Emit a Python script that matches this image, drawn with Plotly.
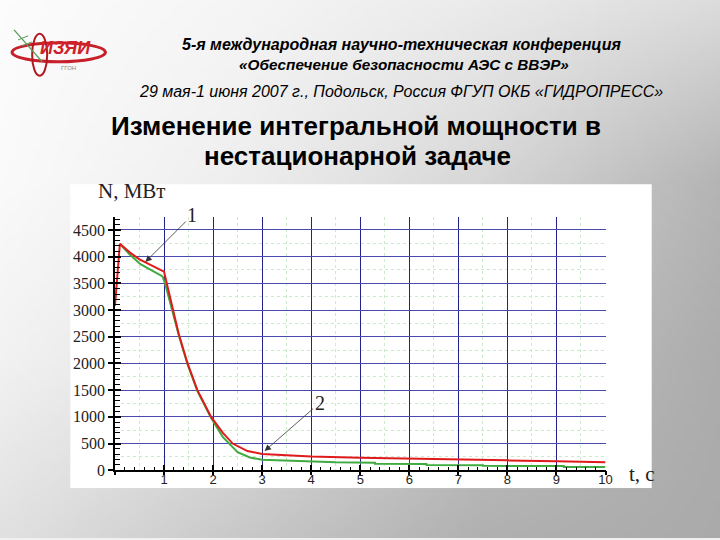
import base64, struct, zlib
import plotly.graph_objects as go

# ---------------- data ----------------
t_red = [0, 0.1, 0.3, 0.5, 1.0, 1.15, 1.3, 1.48, 1.68, 1.96, 2.2, 2.4, 2.7, 3.0, 3.5, 4, 5, 6, 7, 8, 9, 10]
n_red = [3080, 4240, 4080, 3950, 3720, 3150, 2550, 2000, 1500, 1000, 700, 500, 360, 305, 280, 258, 235, 215, 200, 185, 170, 150]

t_green = [0.1, 0.3, 0.52, 0.75, 0.97, 1.02, 1.3, 1.48, 1.68, 1.96, 2.2, 2.5, 2.75, 3.0, 3.5, 4.0, 4.5,
           5.3, 5.3, 6.35, 6.35, 7.5, 7.5, 9.15, 9.15, 10]
n_green = [4240, 4040, 3860, 3740, 3630, 3500, 2530, 1980, 1480, 980, 620, 340, 240, 195, 175, 155, 148,
           140, 120, 115, 100, 95, 82, 78, 62, 60]

x_ticks = [1, 2, 3, 4, 5, 6, 7, 8, 9, 10]
y_ticks = [0, 500, 1000, 1500, 2000, 2500, 3000, 3500, 4000, 4500]

header_lines = [
    "5-я международная научно-техническая конференция",
    "«Обеспечение безопасности АЭС с ВВЭР»",
    "29 мая-1 июня 2007 г., Подольск, Россия ФГУП ОКБ «ГИДРОПРЕСС»",
]
title_lines = ["Изменение интегральной мощности в", "нестационарной задаче"]

# ---------------- background gradient (slide style) ----------------
GX = [0, 240, 480, 720]
GY = [0, 180, 360, 540]
GV = [[252, 245, 235, 220],
      [250, 238, 215, 180],
      [242, 225, 195, 172],
      [225, 200, 176, 170]]


def shade(x, y):
    i = min(int(x // 240), 2)
    j = min(int(y // 180), 2)
    fx = (x - GX[i]) / 240.0
    fy = (y - GY[j]) / 180.0
    v00, v10 = GV[j][i], GV[j][i + 1]
    v01, v11 = GV[j + 1][i], GV[j + 1][i + 1]
    return v00 * (1 - fx) * (1 - fy) + v10 * fx * (1 - fy) + v01 * (1 - fx) * fy + v11 * fx * fy


def gradient_png(w, h, y0, y1):
    rows = []
    for j in range(h):
        yy = y0 + (y1 - y0) * (j + 0.5) / h
        row = bytearray([0])
        for i in range(w):
            xx = 720.0 * (i + 0.5) / w
            row.append(max(0, min(255, int(round(shade(xx, yy))))))
        rows.append(bytes(row))
    raw = b"".join(rows)

    def chunk(tag, data):
        return struct.pack(">I", len(data)) + tag + data + struct.pack(">I", zlib.crc32(tag + data) & 0xffffffff)

    png = b"\x89PNG\r\n\x1a\n" + chunk(b"IHDR", struct.pack(">IIBBBBB", w, h, 8, 0, 0, 0, 0)) \
        + chunk(b"IDAT", zlib.compress(raw, 9)) + chunk(b"IEND", b"")
    return "data:image/png;base64," + base64.b64encode(png).decode()


# reference-space size (positions below are given in reference pixels)
RW, RH = 720, 540
# figure size (the renderer shrinks the page slightly)
FW, FH = 730, 547


def px(x):
    return x / RW


def py(y):
    return 1 - y / RH


fig = go.Figure()

fig.add_trace(go.Scatter(x=t_green, y=n_green, mode="lines", line=dict(color="#3faa3f", width=2),
                         showlegend=False, hoverinfo="skip"))
fig.add_trace(go.Scatter(x=t_red, y=n_red, mode="lines", line=dict(color="#e01a1a", width=2),
                         showlegend=False, hoverinfo="skip"))
# dummy trace for the overlay axes (minor green grid + outer ticks)
fig.add_trace(go.Scatter(x=[], y=[], xaxis="x2", yaxis="y2", showlegend=False))

xdom = [px(114.5), px(603)]
ydom = [py(472), py(217.4)]

serif = "Liberation Serif"
sans = "Liberation Sans"

fig.update_layout(
    width=FW, height=FH, margin=dict(l=0, r=0, t=0, b=0),
    paper_bgcolor="#f0f0f0", plot_bgcolor="rgba(0,0,0,0)",
    xaxis=dict(domain=xdom, range=[0, 10], tickvals=x_ticks, ticks="inside", ticklen=6,
               tickcolor="black", tickwidth=1.5, showline=True, linecolor="black", linewidth=1.5,
               showgrid=True, gridcolor="#23238c", gridwidth=1.2, zeroline=False,
               ticklabelstandoff=-4,
               tickfont=dict(family=sans, size=13, color="#222"),
               minor=dict(dtick=0.2, ticks="inside", ticklen=4, tickcolor="black", tickwidth=1.2,
                          showgrid=False)),
    yaxis=dict(domain=ydom, range=[0, 4750], tickvals=y_ticks, ticks="outside", ticklen=5,
               tickcolor="black", tickwidth=1.5, showline=True, linecolor="black", linewidth=1.5,
               showgrid=True, gridcolor="#4a4aae", gridwidth=1.2, zeroline=False,
               tickfont=dict(family=serif, size=16, color="#222"),
               minor=dict(dtick=100, ticks="inside", ticklen=5, tickcolor="black", tickwidth=1.2,
                          showgrid=False)),
    xaxis2=dict(domain=xdom, range=[0, 10], overlaying="x", anchor="y", dtick=1, ticks="outside",
                ticklen=4, tickcolor="black", tickwidth=1.5, showticklabels=False, showgrid=False,
                zeroline=False, showline=False,
                minor=dict(dtick=0.5, showgrid=True, gridcolor="#cdeacd", griddash="dot", gridwidth=1)),
    yaxis2=dict(domain=ydom, range=[0, 4750], overlaying="y", anchor="x", side="left", dtick=500,
                ticks="inside", ticklen=6, tickcolor="black", tickwidth=1.5, showticklabels=False,
                showgrid=False, zeroline=False, showline=False,
                minor=dict(dtick=250, showgrid=True, gridcolor="#cdeacd", griddash="dot", gridwidth=1)),
)

# full slide background
fig.add_layout_image(dict(source=gradient_png(120, 90, 0, 540), xref="paper", yref="paper", x=0, y=1,
                          sizex=1, sizey=1, sizing="stretch", xanchor="left", yanchor="top",
                          layer="below"))
# strip below the picture panel (crops the bottom of the x tick labels, as in the slide)
fig.add_layout_image(dict(source=gradient_png(120, 10, 490, 540), xref="paper", yref="paper",
                          x=0, y=py(490), sizex=1, sizey=50 / RH, sizing="stretch",
                          xanchor="left", yanchor="top", layer="above"))

shapes = [
    # white picture panel
    dict(type="rect", xref="paper", yref="paper", x0=px(70), x1=px(649), y0=py(490), y1=py(185),
         fillcolor="white", line=dict(width=0), layer="below"),
    # logo: horizontal ellipse
    dict(type="circle", xref="paper", yref="paper", x0=px(12), x1=px(105), y0=py(62), y1=py(43),
         line=dict(color="#c8202a", width=3)),
    # logo: vertical ellipse
    dict(type="circle", xref="paper", yref="paper", x0=px(32), x1=px(47), y0=py(76), y1=py(34),
         line=dict(color="#b01820", width=2)),
    # logo: branch
    dict(type="line", xref="paper", yref="paper", x0=px(14), y0=py(30), x1=px(42), y1=py(62),
         line=dict(color="#5a9a5a", width=1.2)),
    dict(type="line", xref="paper", yref="paper", x0=px(18), y0=py(40), x1=px(28), y1=py(36),
         line=dict(color="#5a9a5a", width=1)),
    dict(type="line", xref="paper", yref="paper", x0=px(22), y0=py(46), x1=px(32), y1=py(42),
         line=dict(color="#5a9a5a", width=1)),
]
fig.update_layout(shapes=shapes)


def txt(x, y, text, size, family=sans, color="black", xanchor="center"):
    return dict(xref="paper", yref="paper", x=px(x), y=py(y), text=text, showarrow=False,
                xanchor=xanchor, yanchor="middle", font=dict(family=family, size=size, color=color))


ann = [
    # logo texts
    txt(65, 48, "<b><i>ИЗЯИ</i></b>", 18, color="#d0202a"),
    txt(68, 68, "ГГОН", 6, color="#888"),
    # header
    txt(400, 45, "<b><i>%s</i></b>" % header_lines[0], 16),
    txt(402, 65, "<b><i>%s</i></b>" % header_lines[1], 15.3),
    txt(399, 92, "<i>%s</i>" % header_lines[2], 16),
    # title
    txt(355, 126, "<b>%s</b>" % title_lines[0], 26),
    txt(356, 157, "<b>%s</b>" % title_lines[1], 26),
    # axis titles
    txt(96, 192, "N, МВт", 21, family=serif, color="#222", xanchor="left"),
    txt(624, 476, "t, c", 21, family=serif, color="#222", xanchor="left"),
]
# curve labels with arrows
ann.append(dict(xref="x", yref="y", x=0.62, y=3900, ax=47, ay=-47, text="1", showarrow=True,
                arrowhead=2, arrowsize=1.6, arrowwidth=0.8, arrowcolor="#333",
                font=dict(family=serif, size=20, color="#222")))
ann.append(dict(xref="x", yref="y", x=3.05, y=360, ax=55, ay=-48, text="2", showarrow=True,
                arrowhead=2, arrowsize=1.6, arrowwidth=0.8, arrowcolor="#333",
                font=dict(family=serif, size=20, color="#222")))
fig.update_layout(annotations=ann)

fig.write_html("out.html", config={"displayModeBar": False},
               post_script="document.body.style.margin='0';document.body.style.overflow='hidden';")
